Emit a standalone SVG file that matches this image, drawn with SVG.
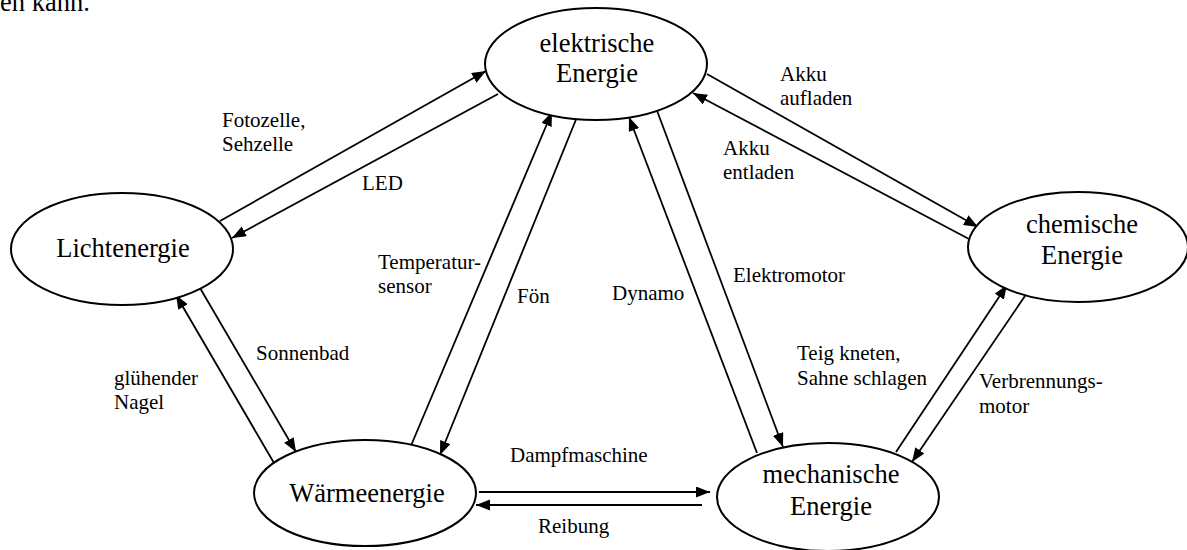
<svg xmlns="http://www.w3.org/2000/svg" width="1187" height="550" viewBox="0 0 1187 550">
<defs>
<marker id="ah" markerUnits="userSpaceOnUse" markerWidth="15" markerHeight="12" refX="14" refY="5.5" orient="auto">
<path d="M0,0 L14,5.5 L0,11 z" fill="#000"/>
</marker>
<style>
.n{fill:#fff;stroke:#000;stroke-width:2}
.nt{font-family:'Times New Roman','Liberation Serif',Tinos,'Nimbus Roman','DejaVu Serif',serif;font-size:26.5px;fill:#000;text-anchor:middle}
.c line{stroke:#000;stroke-width:1.8;marker-end:url(#ah)}
.lb{font-family:'Times New Roman','Liberation Serif',Tinos,'Nimbus Roman','DejaVu Serif',serif;font-size:21px;fill:#000}
.top{font-family:'Times New Roman','Liberation Serif',Tinos,'Nimbus Roman','DejaVu Serif',serif;font-size:26.5px;fill:#000}
</style>
</defs>
<rect width="1187" height="550" fill="#fff"/>
<text class="top" x="0" y="11">en kann.</text>
<g id="connectors" class="c">
<line x1="220" y1="221" x2="486" y2="71"/>
<line x1="498" y1="94" x2="232" y2="238"/>
<line x1="274" y1="463" x2="176" y2="295"/>
<line x1="200" y1="288" x2="296" y2="452"/>
<line x1="410" y1="448" x2="552" y2="112"/>
<line x1="577" y1="117" x2="440" y2="455"/>
<line x1="757" y1="453" x2="629" y2="117"/>
<line x1="656" y1="108" x2="783" y2="447"/>
<line x1="707" y1="74" x2="978" y2="227"/>
<line x1="969" y1="239" x2="693" y2="93"/>
<line x1="896" y1="452" x2="1007" y2="285"/>
<line x1="1027" y1="293" x2="912" y2="462"/>
<line x1="479" y1="492" x2="710" y2="492"/>
<line x1="702" y1="505" x2="476" y2="505"/>
</g>
<g id="labels" class="lb">
<text x="222" y="127">Fotozelle,</text>
<text x="222" y="151">Sehzelle</text>
<text x="362" y="190">LED</text>
<text x="378" y="269">Temperatur-</text>
<text x="378" y="293">sensor</text>
<text x="517" y="303">Fön</text>
<text x="612" y="300">Dynamo</text>
<text x="733" y="282">Elektromotor</text>
<text x="780" y="81">Akku</text>
<text x="780" y="105">aufladen</text>
<text x="723" y="155">Akku</text>
<text x="723" y="179">entladen</text>
<text x="256" y="360">Sonnenbad</text>
<text x="114" y="385">glühender</text>
<text x="114" y="409">Nagel</text>
<text x="510" y="462">Dampfmaschine</text>
<text x="538" y="533">Reibung</text>
<text x="797" y="360">Teig kneten,</text>
<text x="797" y="385">Sahne schlagen</text>
<text x="979" y="388">Verbrennungs-</text>
<text x="979" y="413">motor</text>
</g>
<g id="elektrisch">
<ellipse class="n" cx="596" cy="64" rx="111" ry="56"/>
<text class="nt" x="597" y="52">elektrische</text>
<text class="nt" x="597" y="82">Energie</text>
</g>
<g id="licht">
<ellipse class="n" cx="122" cy="249" rx="111" ry="56"/>
<text class="nt" x="123" y="257">Lichtenergie</text>
</g>
<g id="chemisch">
<ellipse class="n" cx="1078" cy="247" rx="110" ry="55"/>
<text class="nt" x="1082" y="233">chemische</text>
<text class="nt" x="1082" y="264">Energie</text>
</g>
<g id="waerme">
<ellipse class="n" cx="365" cy="493" rx="111" ry="53"/>
<text class="nt" x="367" y="502">Wärmeenergie</text>
</g>
<g id="mechanisch">
<ellipse class="n" cx="828" cy="497" rx="111" ry="54"/>
<text class="nt" x="831" y="483">mechanische</text>
<text class="nt" x="831" y="515">Energie</text>
</g>
</svg>
